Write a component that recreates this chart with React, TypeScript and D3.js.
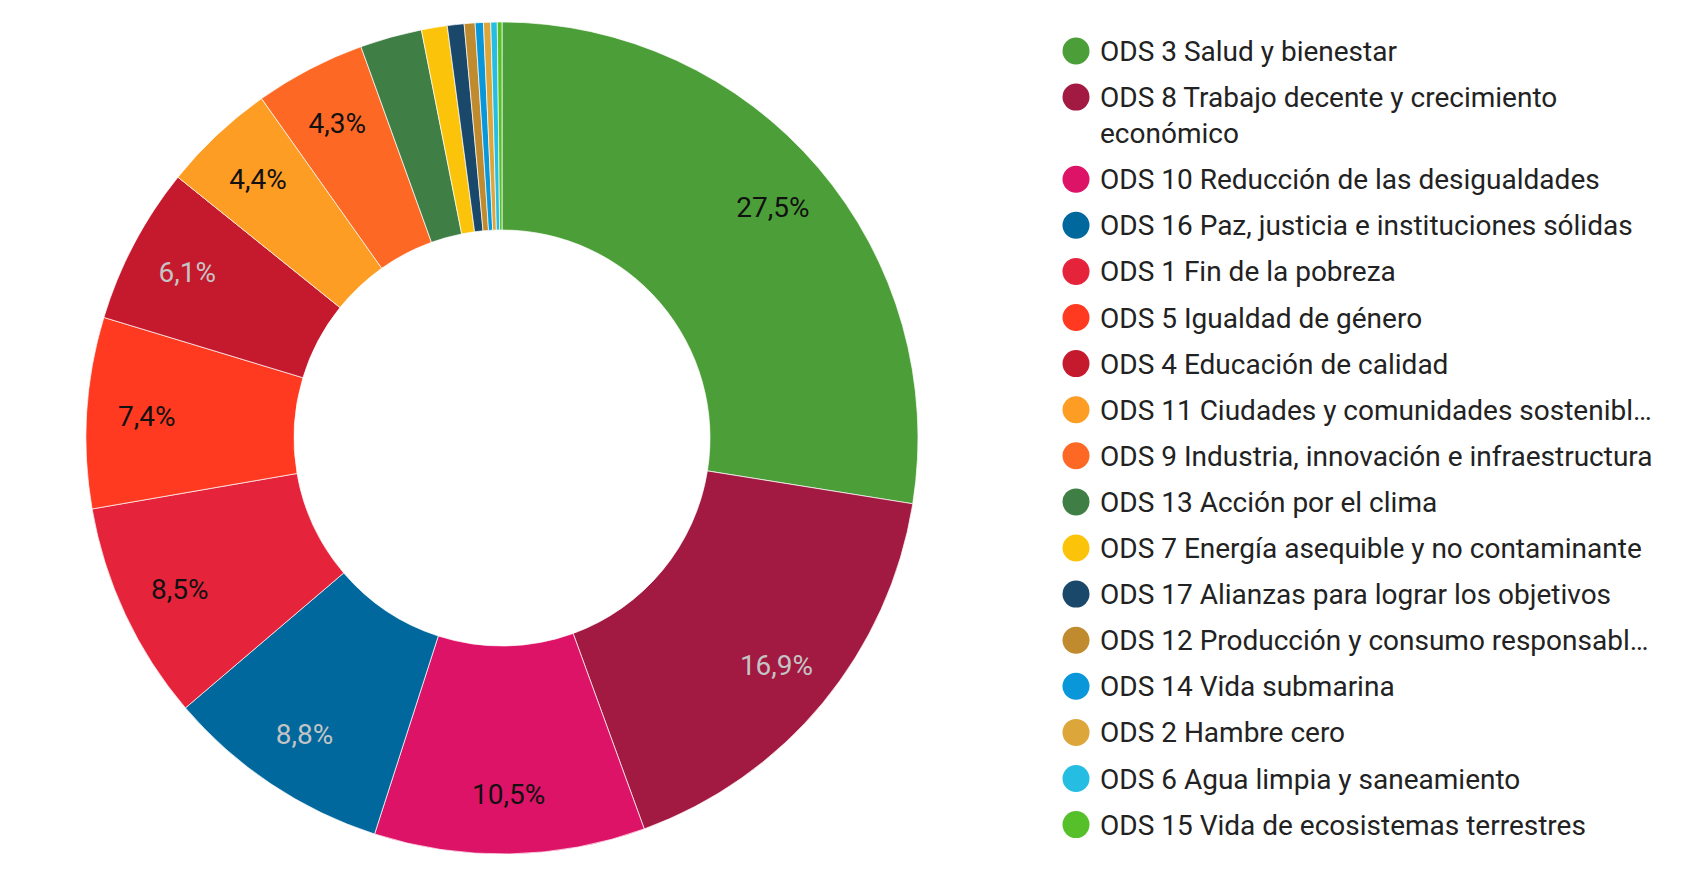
import React, { useEffect, useRef } from 'react'
import * as d3 from 'd3'

// values in %, in slice / legend order
const categories = [
  'ODS 3 Salud y bienestar',
  'ODS 8 Trabajo decente y crecimiento\neconómico',
  'ODS 10 Reducción de las desigualdades',
  'ODS 16 Paz, justicia e instituciones sólidas',
  'ODS 1 Fin de la pobreza',
  'ODS 5 Igualdad de género',
  'ODS 4 Educación de calidad',
  'ODS 11 Ciudades y comunidades sostenibl…',
  'ODS 9 Industria, innovación e infraestructura',
  'ODS 13 Acción por el clima',
  'ODS 7 Energía asequible y no contaminante',
  'ODS 17 Alianzas para lograr los objetivos',
  'ODS 12 Producción y consumo responsabl…',
  'ODS 14 Vida submarina',
  'ODS 2 Hambre cero',
  'ODS 6 Agua limpia y saneamiento',
  'ODS 15 Vida de ecosistemas terrestres',
]
const values = [27.5, 16.9, 10.5, 8.8, 8.5, 7.4, 6.1, 4.4, 4.3, 2.4, 1.0, 0.65, 0.42, 0.32, 0.28, 0.25, 0.18]
const colors = [
  '#4C9F38', '#A21942', '#DD1367', '#00689D', '#E5243B', '#FF3A21', '#C5192D', '#FD9D24',
  '#FD6925', '#3F7E44', '#FCC30B', '#19486A', '#BF8B2E', '#0A97D9', '#DDA63A', '#26BDE2', '#56C02B',
]
// slices whose label is drawn in light grey
const darkSlices = ['ODS 8', 'ODS 16', 'ODS 4']

interface Slice {
  name: string
  value: number
  color: string
}

export default function App() {
  const svgRef = useRef<SVGSVGElement>(null)

  useEffect(() => {
    if (!svgRef.current) return
    const svg = d3.select(svgRef.current)
    svg.selectAll('*').remove()

    const data: Slice[] = categories.map((name, i) => ({ name, value: values[i], color: colors[i] }))
    const total = d3.sum(values)

    const cx = 502
    const cy = 438
    const outerR = 416
    const innerR = 208
    const labelR = 356

    const pie = d3.pie<Slice>().sort(null).value((d) => d.value)
    const arcs = pie(data)
    const arc = d3.arc<d3.PieArcDatum<Slice>>().innerRadius(innerR).outerRadius(outerR)

    const g = svg.append('g').attr('transform', `translate(${cx},${cy})`)

    g.selectAll('path')
      .data(arcs)
      .join('path')
      .attr('d', arc)
      .attr('fill', (d) => d.data.color)
      .attr('stroke', '#ffffff')
      .attr('stroke-width', 0.7)

    const fmt = (v: number) => d3.format('.1f')((v / total) * 100).replace('.', ',') + '%'

    g.selectAll('text.lbl')
      .data(arcs.filter((d) => d.data.value / total > 0.04))
      .join('text')
      .attr('class', 'lbl')
      .attr('x', (d) => Math.sin((d.startAngle + d.endAngle) / 2) * labelR)
      .attr('y', (d) => -Math.cos((d.startAngle + d.endAngle) / 2) * labelR)
      .attr('text-anchor', 'middle')
      .attr('dy', '0.36em')
      .attr('font-family', 'Roboto')
      .attr('font-size', 28)
      .attr('fill', (d) => (darkSlices.includes(d.data.name.split(' ').slice(0, 2).join(' ')) ? '#c4c4c4' : '#111111'))
      .text((d) => fmt(d.data.value))

    // legend
    const legendX = 1076
    const rowGap = 46.1
    const lineGap = 36
    let y = 51
    data.forEach((d) => {
      const lines = d.name.split('\n')
      const row = svg.append('g').attr('transform', `translate(${legendX},${y})`)
      row.append('circle').attr('r', 13.5).attr('fill', d.color)
      const t = row
        .append('text')
        .attr('x', 24)
        .attr('font-family', 'Roboto')
        .attr('font-size', 28)
        .attr('fill', '#222222')
      lines.forEach((line, j) => {
        t.append('tspan').attr('x', 24).attr('y', j * lineGap).attr('dy', '0.36em').text(line)
      })
      y += rowGap + (lines.length - 1) * lineGap
    })
  }, [])

  return (
    <svg
      ref={svgRef}
      width={1702}
      height={878}
      style={{ position: 'absolute', left: 0, top: 0, background: '#ffffff' }}
    />
  )
}
